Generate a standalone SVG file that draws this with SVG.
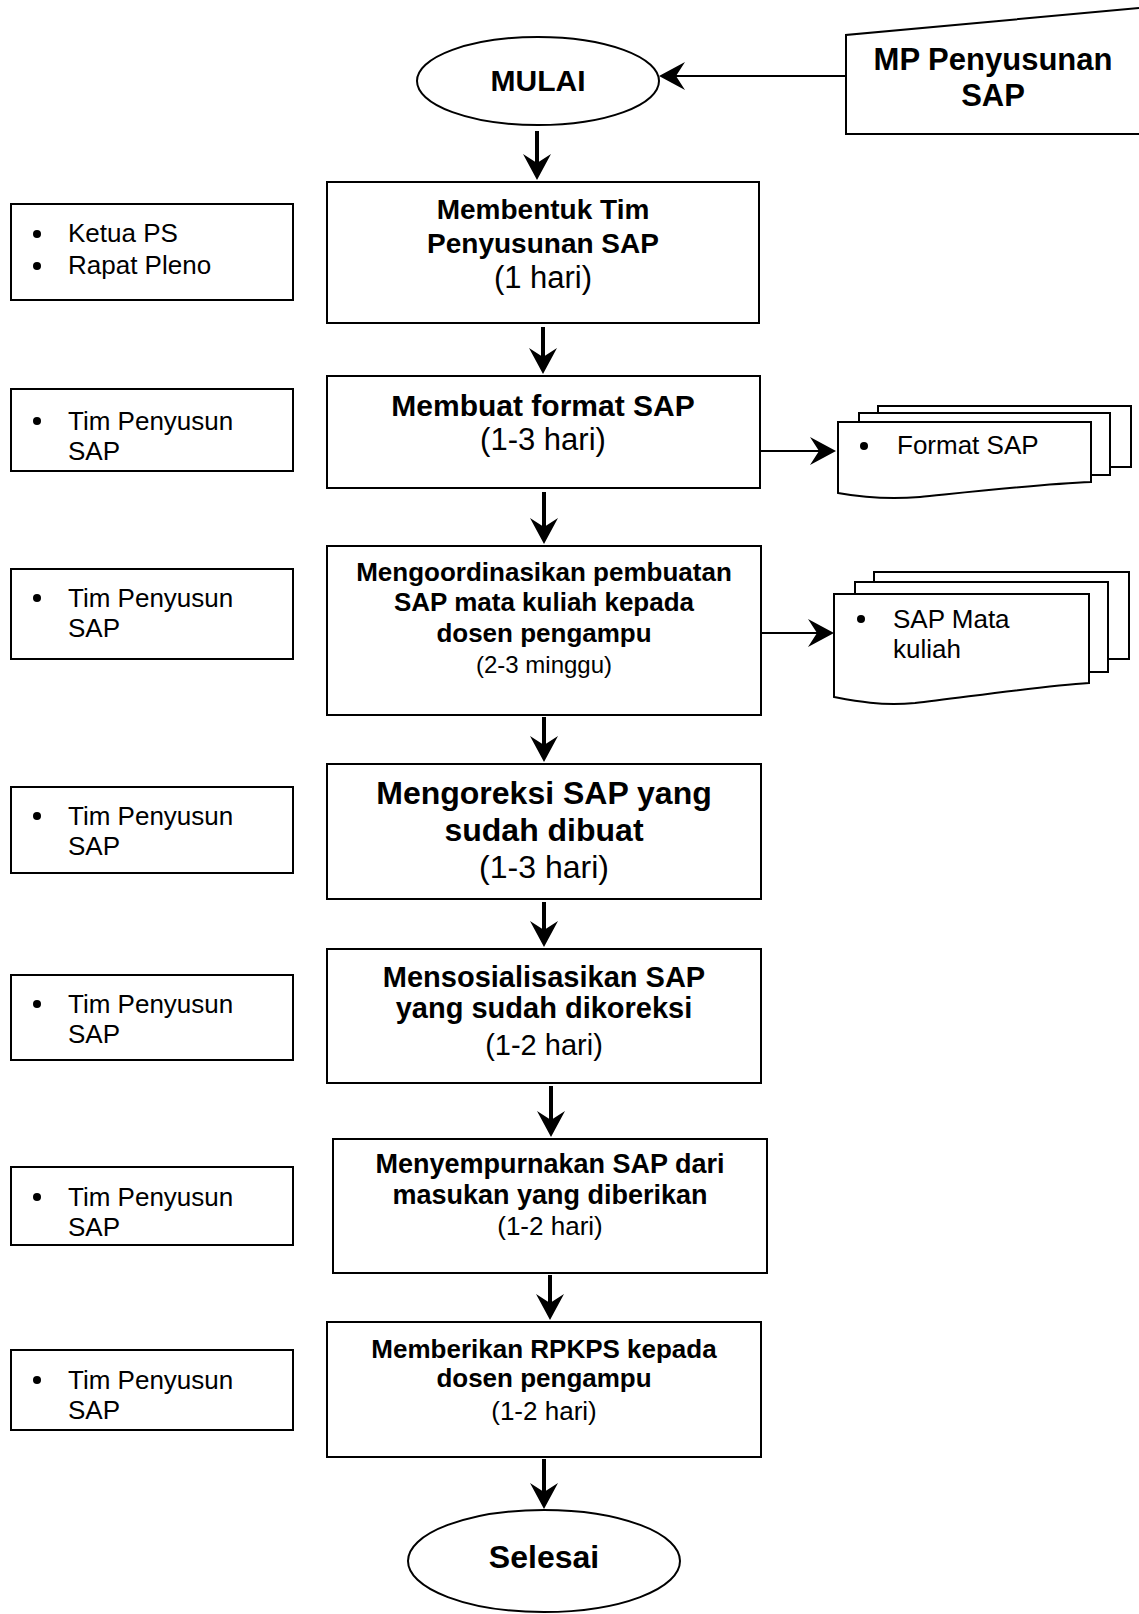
<svg xmlns="http://www.w3.org/2000/svg" width="1139" height="1614" viewBox="0 0 1139 1614">
<style>
text{font-family:"Liberation Sans",Arial,sans-serif;fill:#000}
.b{font-weight:bold}
.c{text-anchor:middle}
.box{fill:#fff;stroke:#000;stroke-width:2}
.v{stroke:#000;stroke-width:4;fill:none}
.h{stroke:#000;stroke-width:2;fill:none}
.side{font-size:26px}
</style>
<defs>
<marker id="ah" markerUnits="userSpaceOnUse" markerWidth="30" markerHeight="30" viewBox="0 -15 27 30" refX="12" refY="0" orient="auto">
<path d="M0,-14 L26,0 L0,14 L9,0 Z" fill="#000"/>
</marker>
</defs>
<rect width="1139" height="1614" fill="#fff"/>

<g id="connectors">
<line class="h" x1="846" y1="76" x2="673" y2="76" marker-end="url(#ah)"/>
<line class="v" x1="537" y1="131" x2="537" y2="166" marker-end="url(#ah)"/>
<line class="v" x1="543" y1="327" x2="543" y2="360" marker-end="url(#ah)"/>
<line class="v" x1="544" y1="492" x2="544" y2="530" marker-end="url(#ah)"/>
<line class="v" x1="544" y1="717" x2="544" y2="748" marker-end="url(#ah)"/>
<line class="v" x1="544" y1="902" x2="544" y2="933" marker-end="url(#ah)"/>
<line class="v" x1="551" y1="1086" x2="551" y2="1123" marker-end="url(#ah)"/>
<line class="v" x1="550" y1="1275" x2="550" y2="1306" marker-end="url(#ah)"/>
<line class="v" x1="544" y1="1459" x2="544" y2="1495" marker-end="url(#ah)"/>
<line class="h" x1="760" y1="451" x2="822" y2="451" marker-end="url(#ah)"/>
<line class="h" x1="758" y1="633" x2="820" y2="633" marker-end="url(#ah)"/>
</g>

<g id="mulai">
<ellipse class="box" cx="538" cy="81" rx="121" ry="44"/>
<text class="b c" x="538" y="91" font-size="30">MULAI</text>
</g>

<g id="mp-penyusunan">
<path class="box" d="M1139,8 L846,35 L846,134 L1139,134"/>
<text class="b c" x="993" y="70" font-size="31">MP Penyusunan</text>
<text class="b c" x="993" y="106" font-size="31">SAP</text>
</g>

<g id="step1">
<rect class="box" x="327" y="182" width="432" height="141"/>
<text class="b c" x="543" y="219" font-size="28">Membentuk Tim</text>
<text class="b c" x="543" y="253" font-size="28">Penyusunan SAP</text>
<text class="c" x="543" y="288" font-size="31">(1 hari)</text>
</g>

<g id="step2">
<rect class="box" x="327" y="376" width="433" height="112"/>
<text class="b c" x="543" y="416" font-size="30">Membuat format SAP</text>
<text class="c" x="543" y="450" font-size="31">(1-3 hari)</text>
</g>

<g id="step3">
<rect class="box" x="327" y="546" width="434" height="169"/>
<text class="b c" x="544" y="581" font-size="26">Mengoordinasikan pembuatan</text>
<text class="b c" x="544" y="611" font-size="26">SAP mata kuliah kepada</text>
<text class="b c" x="544" y="642" font-size="26">dosen pengampu</text>
<text class="c" x="544" y="673" font-size="24">(2-3 minggu)</text>
</g>

<g id="step4">
<rect class="box" x="327" y="764" width="434" height="135"/>
<text class="b c" x="544" y="804" font-size="32">Mengoreksi SAP yang</text>
<text class="b c" x="544" y="841" font-size="32">sudah dibuat</text>
<text class="c" x="544" y="878" font-size="32">(1-3 hari)</text>
</g>

<g id="step5">
<rect class="box" x="327" y="949" width="434" height="134"/>
<text class="b c" x="544" y="987" font-size="29">Mensosialisasikan SAP</text>
<text class="b c" x="544" y="1018" font-size="29">yang sudah dikoreksi</text>
<text class="c" x="544" y="1055" font-size="29">(1-2 hari)</text>
</g>

<g id="step6">
<rect class="box" x="333" y="1139" width="434" height="134"/>
<text class="b c" x="550" y="1173" font-size="27">Menyempurnakan SAP dari</text>
<text class="b c" x="550" y="1204" font-size="27">masukan yang diberikan</text>
<text class="c" x="550" y="1235" font-size="26">(1-2 hari)</text>
</g>

<g id="step7">
<rect class="box" x="327" y="1322" width="434" height="135"/>
<text class="b c" x="544" y="1358" font-size="26">Memberikan RPKPS kepada</text>
<text class="b c" x="544" y="1387" font-size="26">dosen pengampu</text>
<text class="c" x="544" y="1420" font-size="26">(1-2 hari)</text>
</g>

<g id="selesai">
<ellipse class="box" cx="544" cy="1561" rx="136" ry="51"/>
<text class="b c" x="544" y="1568" font-size="32">Selesai</text>
</g>

<g id="pic1">
<rect class="box" x="11" y="204" width="282" height="96"/>
<circle cx="37" cy="234" r="4"/>
<circle cx="37" cy="266" r="4"/>
<text class="side" x="68" y="242">Ketua PS</text>
<text class="side" x="68" y="274">Rapat Pleno</text>
</g>

<g id="pic2">
<rect class="box" x="11" y="389" width="282" height="82"/>
<circle cx="37" cy="421" r="4"/>
<text class="side" x="68" y="430">Tim Penyusun</text>
<text class="side" x="68" y="460">SAP</text>
</g>

<g id="pic3">
<rect class="box" x="11" y="569" width="282" height="90"/>
<circle cx="37" cy="598" r="4"/>
<text class="side" x="68" y="607">Tim Penyusun</text>
<text class="side" x="68" y="637">SAP</text>
</g>

<g id="pic4">
<rect class="box" x="11" y="787" width="282" height="86"/>
<circle cx="37" cy="816" r="4"/>
<text class="side" x="68" y="825">Tim Penyusun</text>
<text class="side" x="68" y="855">SAP</text>
</g>

<g id="pic5">
<rect class="box" x="11" y="975" width="282" height="85"/>
<circle cx="37" cy="1004" r="4"/>
<text class="side" x="68" y="1013">Tim Penyusun</text>
<text class="side" x="68" y="1043">SAP</text>
</g>

<g id="pic6">
<rect class="box" x="11" y="1167" width="282" height="78"/>
<circle cx="37" cy="1197" r="4"/>
<text class="side" x="68" y="1206">Tim Penyusun</text>
<text class="side" x="68" y="1236">SAP</text>
</g>

<g id="pic7">
<rect class="box" x="11" y="1350" width="282" height="80"/>
<circle cx="37" cy="1380" r="4"/>
<text class="side" x="68" y="1389">Tim Penyusun</text>
<text class="side" x="68" y="1419">SAP</text>
</g>

<g id="doc-format-sap">
<rect class="box" x="878" y="406" width="253" height="61"/>
<rect class="box" x="859" y="413" width="251" height="62"/>
<path class="box" d="M838,422 H1091 V482 C1040,484 960,493 920,497 C885,500 860,497 838,493 Z"/>
<circle cx="864" cy="446" r="4"/>
<text class="side" x="897" y="454">Format SAP</text>
</g>

<g id="doc-sap-mata-kuliah">
<rect class="box" x="874" y="572" width="255" height="87"/>
<rect class="box" x="855" y="582" width="253" height="90"/>
<path class="box" d="M834,594 H1089 V683 C1040,686 960,698 915,703 C880,706 855,701 834,697 Z"/>
<circle cx="861" cy="619" r="4"/>
<text class="side" x="893" y="628">SAP Mata</text>
<text class="side" x="893" y="658">kuliah</text>
</g>
</svg>
